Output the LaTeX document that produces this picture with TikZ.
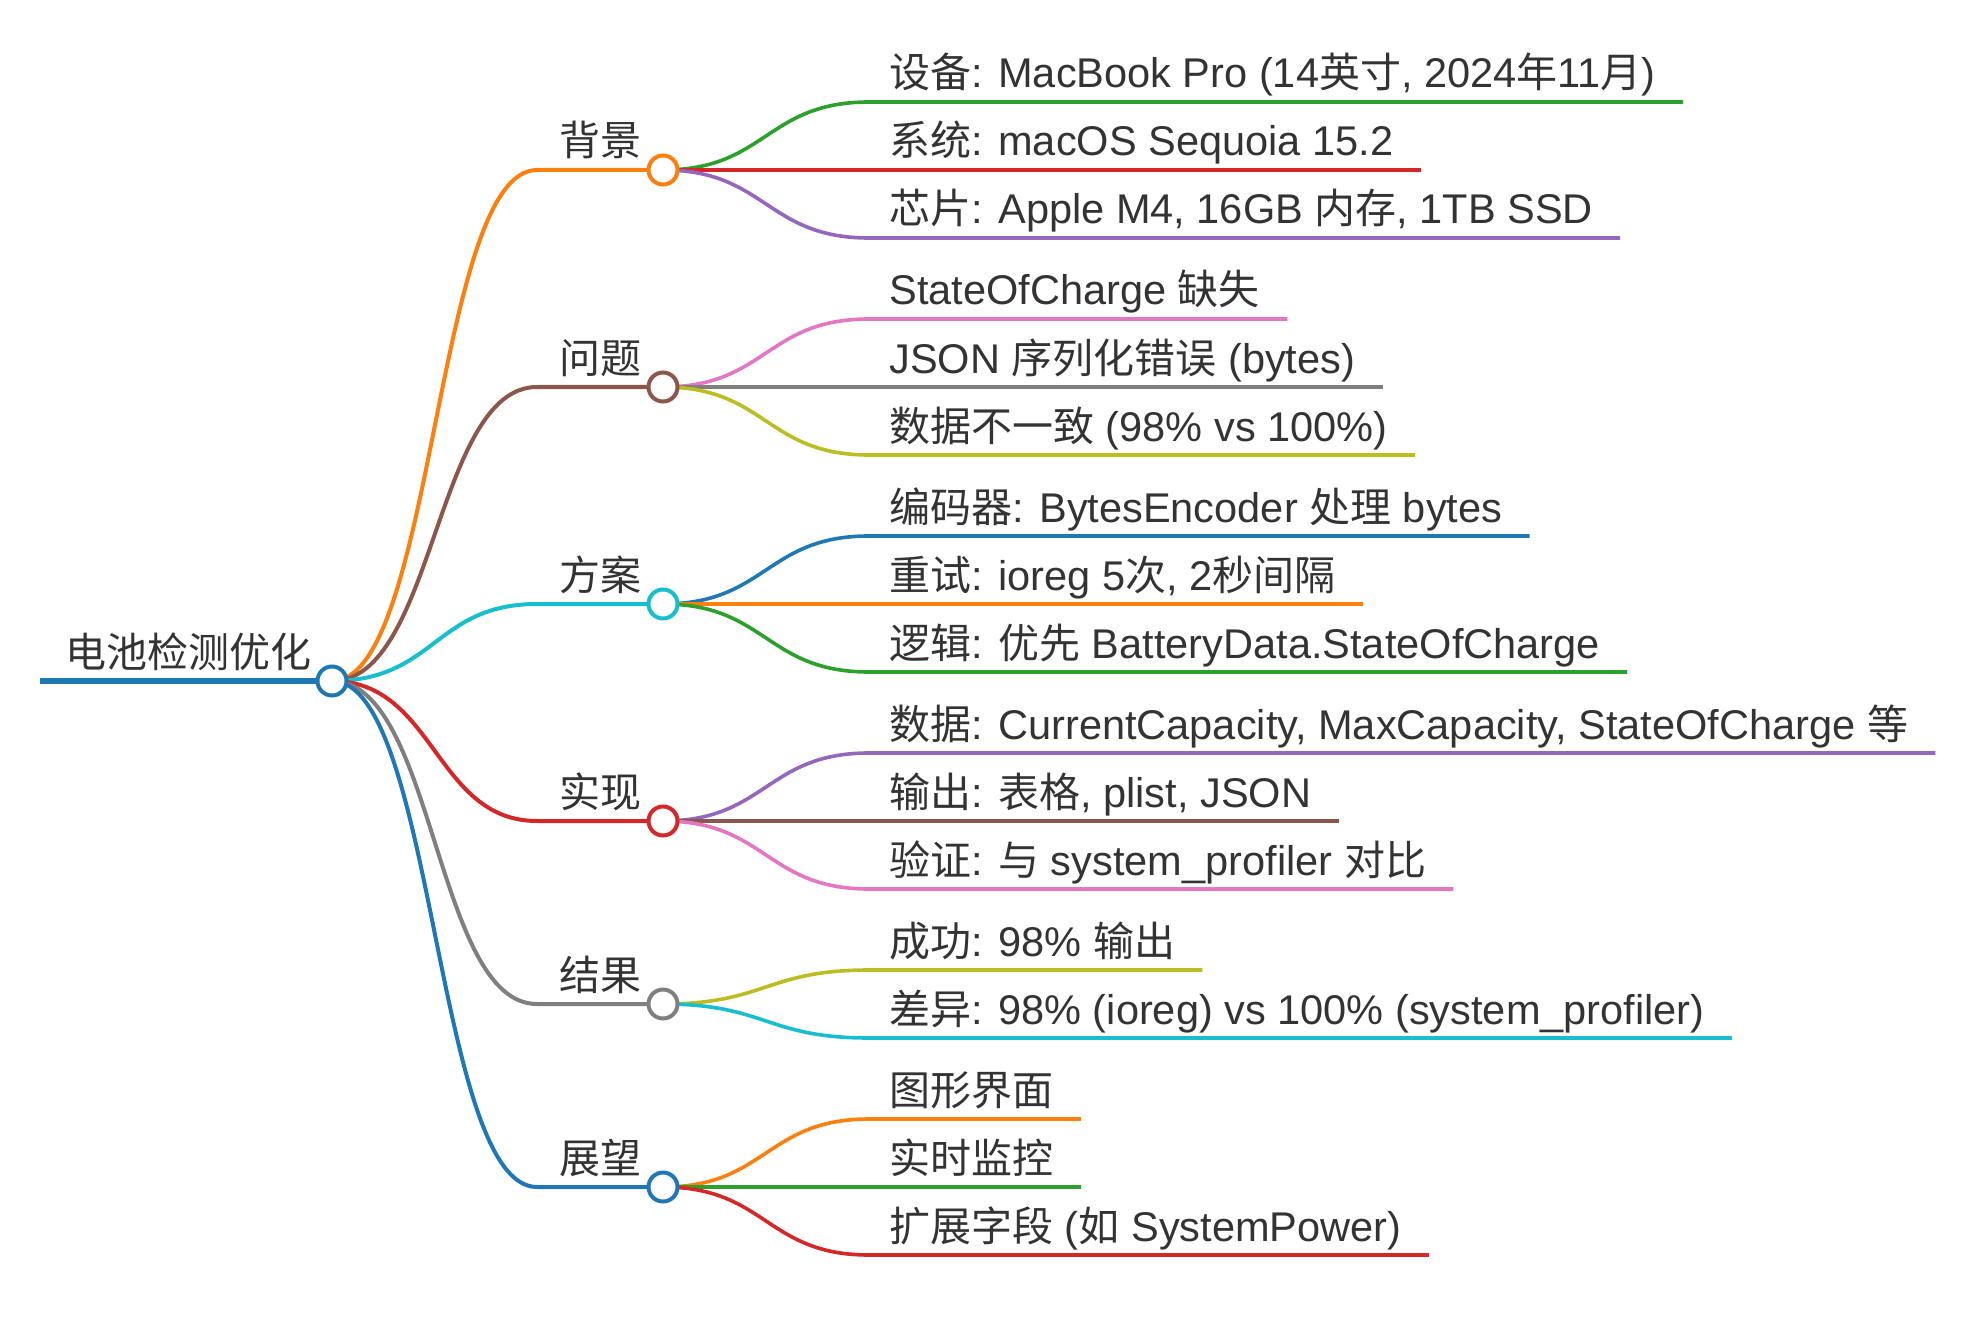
\documentclass[tikz,border=0pt]{standalone}
\usepackage{fontspec}
\setmainfont[Scale=1.013]{Liberation Sans}
\newfontfamily\cjk{Noto Sans CJK SC}
\newcommand\zh[1]{{\cjk #1}}
\usetikzlibrary{calc}
\definecolor{tblue}{HTML}{1F77B4}
\definecolor{torange}{HTML}{FF7F0E}
\definecolor{tgreen}{HTML}{2CA02C}
\definecolor{tred}{HTML}{D62728}
\definecolor{tpurple}{HTML}{9467BD}
\definecolor{tbrown}{HTML}{8C564B}
\definecolor{tpink}{HTML}{E377C2}
\definecolor{tgray}{HTML}{7F7F7F}
\definecolor{tolive}{HTML}{BCBD22}
\definecolor{tcyan}{HTML}{17BECF}
\definecolor{textgray}{HTML}{333333}
\newcommand\branchnode[4]{%
  \coordinate (#1) at (663,#2);
  \coordinate (#1s) at (537,#2);
  \node[txt] (#1t) at (559,#2-14) {#4};
  \draw[lone, draw=#3] (root) .. controls (435,681) and (435,#2) .. (#1s) -- (#1);
}
\newcommand\leafnode[6]{%
  \coordinate (#1s) at (869,#4);
  \node[txt] (#1) at (889,#4-14) {#6};
  \draw[ltwo, draw=#5] (#2) .. controls (766,#3) and (766,#4) .. (#1s) -- ($(#1.east |- #1s)+(27,0)$);
}
\begin{document}
\begin{tikzpicture}[x=0.5pt,y=-0.5pt,
  txt/.style={inner sep=0pt, text=textgray, font=\fontsize{20.5}{24}\selectfont, anchor=base west},
  lzero/.style={line width=3pt},
  lone/.style={line width=2pt},
  ltwo/.style={line width=1.8pt},
  dot/.style={circle, draw=#1, fill=white, line width=2pt, minimum size=14.5pt, inner sep=0pt},
  ]
\useasboundingbox (0,0) rectangle (1974,1326);
% root
\coordinate (root) at (332,681);
\coordinate (rootstart) at (40,681);
\draw[lzero, tblue] (rootstart) -- (root);
\node[txt] (roott) at (65,667) {\zh{电池检测优化}};
% level 1
\branchnode{bg}{170}{torange}{\zh{背景}}
\branchnode{wt}{387}{tbrown}{\zh{问题}}
\branchnode{fa}{604}{tcyan}{\zh{方案}}
\branchnode{sx}{821}{tred}{\zh{实现}}
\branchnode{jg}{1004}{tgray}{\zh{结果}}
\branchnode{zw}{1187}{tblue}{\zh{展望}}
% leaves
\leafnode{a1}{bg}{170}{102}{tgreen}{\zh{设备}: MacBook Pro (14\zh{英寸}, 2024\zh{年}11\zh{月})}
\leafnode{a2}{bg}{170}{170}{tred}{\zh{系统}: macOS Sequoia 15.2}
\leafnode{a3}{bg}{170}{238}{tpurple}{\zh{芯片}: Apple M4, 16GB \zh{内存}, 1TB SSD}
\leafnode{b1}{wt}{387}{319}{tpink}{StateOfCharge \zh{缺失}}
\leafnode{b2}{wt}{387}{387}{tgray}{JSON \zh{序列化错误} (bytes)}
\leafnode{b3}{wt}{387}{455}{tolive}{\zh{数据不一致} (98\% vs 100\%)}
\leafnode{c1}{fa}{604}{536}{tblue}{\zh{编码器}: BytesEncoder \zh{处理} bytes}
\leafnode{c2}{fa}{604}{604}{torange}{\zh{重试}: ioreg 5\zh{次}, 2\zh{秒间隔}}
\leafnode{c3}{fa}{604}{672}{tgreen}{\zh{逻辑}: \zh{优先} BatteryData.StateOfCharge}
\leafnode{d1}{sx}{821}{753}{tpurple}{\zh{数据}: CurrentCapacity, MaxCapacity, StateOfCharge \zh{等}}
\leafnode{d2}{sx}{821}{821}{tbrown}{\zh{输出}: \zh{表格}, plist, JSON}
\leafnode{d3}{sx}{821}{889}{tpink}{\zh{验证}: \zh{与} system\_profiler \zh{对比}}
\leafnode{e1}{jg}{1004}{970}{tolive}{\zh{成功}: 98\% \zh{输出}}
\leafnode{e2}{jg}{1004}{1038}{tcyan}{\zh{差异}: 98\% (ioreg) vs 100\% (system\_profiler)}
\leafnode{f1}{zw}{1187}{1119}{torange}{\zh{图形界面}}
\leafnode{f2}{zw}{1187}{1187}{tgreen}{\zh{实时监控}}
\leafnode{f3}{zw}{1187}{1255}{tred}{\zh{扩展字段} (\zh{如} SystemPower)}
% circles
\node[dot=tblue] (rootdot) at (root) {};
\node[dot=torange] (bgdot) at (bg) {};
\node[dot=tbrown] (wtdot) at (wt) {};
\node[dot=tcyan] (fadot) at (fa) {};
\node[dot=tred] (sxdot) at (sx) {};
\node[dot=tgray] (jgdot) at (jg) {};
\node[dot=tblue] (zwdot) at (zw) {};
\end{tikzpicture}
\end{document}
